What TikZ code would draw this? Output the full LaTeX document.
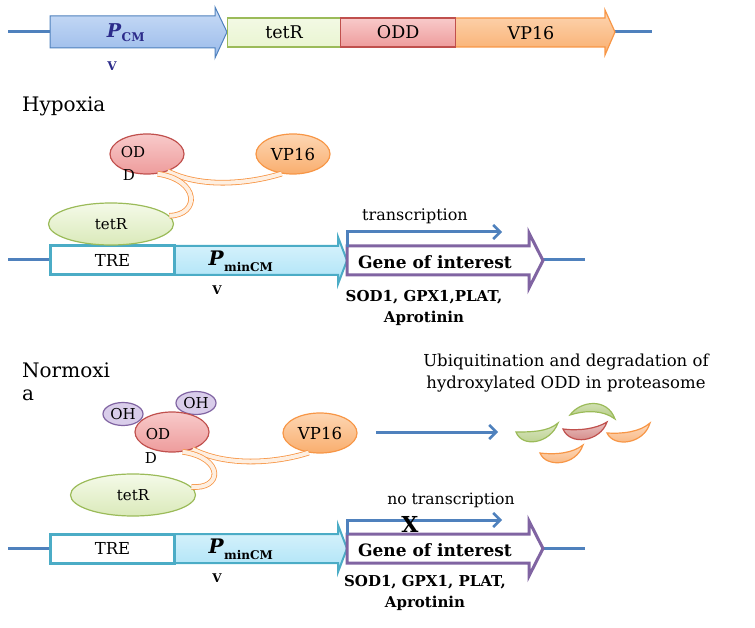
\documentclass[tikz,border=0pt]{standalone}
\usepackage{fontspec}
\setmainfont{DejaVu Serif}
\usetikzlibrary{shapes.geometric,arrows.meta}
\definecolor{dnablue}{HTML}{4F81BD}
\definecolor{pcmA}{HTML}{CADCF6}
\definecolor{pcmB}{HTML}{98BAEA}
\definecolor{tetfill}{HTML}{EAF5D2}
\definecolor{tetline}{HTML}{9BBB59}
\definecolor{oddA}{HTML}{F8CACA}
\definecolor{oddB}{HTML}{EE9C9C}
\definecolor{oddline}{HTML}{C0504D}
\definecolor{vpA}{HTML}{FDD6B3}
\definecolor{vpB}{HTML}{F9AE6E}
\definecolor{vpline}{HTML}{F79646}
\definecolor{ohfill}{HTML}{D9CDEA}
\definecolor{ohline}{HTML}{8064A2}
\definecolor{minA}{HTML}{DDF4FC}
\definecolor{minB}{HTML}{ABE3F7}
\definecolor{minline}{HTML}{4BACC6}
\definecolor{genepurple}{HTML}{8064A2}
\definecolor{pcmtext}{HTML}{2B2B8A}
\tikzset{
  dna/.style={line width=3pt, dnablue},
  pcmbox/.style={draw=dnablue, line width=1pt, top color=pcmA, bottom color=pcmB},
  tetbox/.style={draw=tetline, line width=1.2pt, top color=tetfill!60!white, bottom color=tetfill},
  oddbox/.style={draw=oddline, line width=1.2pt, top color=oddA, bottom color=oddB},
  vpbox/.style={draw=vpline, line width=1.2pt, top color=vpA, bottom color=vpB},
  minbox/.style={draw=minline, line width=2pt, top color=minA, bottom color=minB},
  trebox/.style={draw=minline, line width=3pt, fill=white},
  genebox/.style={draw=genepurple, line width=3pt, fill=white},
  tetell/.style={ellipse, draw=tetline, line width=1.2pt, top color=tetfill!50!white, bottom color=tetfill!80!tetline, minimum width=125pt, minimum height=42pt, inner sep=0pt},
  oddell/.style={ellipse, draw=oddline, line width=1.2pt, top color=oddA, bottom color=oddB, minimum width=74pt, minimum height=40pt, inner sep=0pt},
  vpell/.style={ellipse, draw=vpline, line width=1.2pt, top color=vpA, bottom color=vpB, minimum width=74pt, minimum height=40pt, inner sep=0pt},
  ohell/.style={ellipse, draw=ohline, line width=1.2pt, fill=ohfill, minimum width=40pt, minimum height=23pt, inner sep=0pt},
  link/.style={draw=vpline, line width=0.8pt, double=vpA!40!white, double distance=4pt},
  txt/.style={font=\fontsize{15}{17}\selectfont, inner sep=0pt},
  vptxt/.style={font=\fontsize{16.5}{18}\selectfont, inner sep=0pt},
  toptxt/.style={font=\fontsize{17.5}{19}\selectfont, inner sep=0pt},
  headtxt/.style={font=\fontsize{20}{22}\selectfont, inner sep=0pt, anchor=west},
  genetxt/.style={font=\fontsize{17}{19}\selectfont\bfseries, inner sep=0pt},
  tretxt/.style={font=\fontsize{16.5}{18}\selectfont, inner sep=0pt},
  soddtxt/.style={align=center, font=\fontsize{15}{21}\selectfont\bfseries, inner sep=0pt},
  vtxt/.style={font=\fontsize{12}{12}\selectfont\bfseries, inner sep=0pt},
  tarrow/.style={line width=3pt, dnablue, -{Straight Barb[length=7pt,width=14pt,line width=2.5pt]}},
  crumb/.style={line width=1.2pt, top color=#1!35!white, bottom color=#1!75!white, draw=#1},
}
\begin{document}
\begin{tikzpicture}[x=1pt,y=-1pt]
\useasboundingbox (0,0) rectangle (755,628);
%%%%% top construct
\coordinate (t0) at (8,32);
\coordinate (t1) at (50,32);
\coordinate (t2) at (615,32);
\coordinate (t3) at (652,32);
\draw[dna] (t0) -- (t1);
\draw[dna] (t2) -- (t3);
\draw[pcmbox] (50,16) -- (215,16) -- (215,7) -- (227,32) -- (215,58) -- (215,48) -- (50,48) -- cycle;
\draw[vpbox] (455,18) -- (605,18) -- (605,10) -- (615,32) -- (605,55) -- (605,47) -- (455,47) -- cycle;
\node[tetbox, draw, rectangle, minimum width=113pt, minimum height=29pt, anchor=west, inner sep=0pt] (ttet) at (227,32.5) {};
\node[oddbox, draw, rectangle, minimum width=115pt, minimum height=29pt, anchor=west, inner sep=0pt] (todd) at (340,32.5) {};
\node[toptxt] (tettxt) at (ttet) {tetR};
\node[toptxt] (oddtxt) at (todd) {ODD};
\node[toptxt] (vptxt) at (531,33) {VP16};
\node[txt, text=pcmtext] (pcmtxt) at (126,33) {\textbf{\textit{\fontsize{19}{19}\selectfont P}}\textsubscript{\bfseries\fontsize{12}{12}\selectfont CM}};
\node[vtxt, text=pcmtext] (pcmv) at (112,66) {V};
%%%%% Hypoxia
\node[headtxt] (hyp) at (22,106) {Hypoxia};
\coordinate (h0) at (8,260);
\coordinate (h1) at (49,260);
\coordinate (h2) at (543,260);
\coordinate (h3) at (585,260);
\draw[dna] (h0) -- (h1);
\draw[dna] (h2) -- (h3);
\draw[minbox] (173,246) -- (338,246) -- (338,237) -- (347,260.5) -- (338,284) -- (338,275) -- (173,275) -- cycle;
\node[trebox, rectangle, minimum width=124pt, minimum height=29pt, anchor=west, inner sep=0pt] (htre) at (49,260.5) {};
\node[tretxt] at (htre) {TRE};
\draw[genebox] (347,246) -- (529,246) -- (529,233) -- (543,260.5) -- (529,288) -- (529,275) -- (347,275) -- cycle;
\node[genetxt] (hgene) at (435,262) {Gene of interest};
\node[txt, font=\bfseries] (hpmin) at (241,261) {\textit{\fontsize{20}{20}\selectfont P}\textsubscript{\fontsize{12}{12}\selectfont minCM}};
\node[vtxt] (hpminv) at (217,290) {V};
\coordinate (hs) at (347,247);
\coordinate (hc) at (347,232);
\coordinate (he) at (502,232);
\draw[tarrow] (hs) -- (hc) -- (he);
\node[txt, font=\fontsize{16}{18}\selectfont] (htrans) at (415,216) {transcription};
\node[soddtxt] (hsod) at (424,308) {SOD1, GPX1,PLAT,\\Aprotinin};
% proteins
\node[vpell] (hvp) at (293,154) {};
\node[oddell] (hodd) at (147,154) {};
\node[tetell] (htet) at (111,224) {};
\draw[link] (hodd.-40) .. controls (205,190) and (255,182) .. (hvp.-120);
\draw[link] (hodd.-62) .. controls (200,180) and (200,215) .. (htet.8);
\node[vptxt] at (hvp) {VP16};
\node[txt] at (133,152) {OD};
\node[txt] at (129,175) {D};
\node[txt] at (htet) {tetR};
%%%%% Normoxia
\node[headtxt] (nor1) at (22,370) {Normoxi};
\node[headtxt] (nor2) at (22,395) {a};
\coordinate (n0) at (8,548);
\coordinate (n1) at (49,548);
\coordinate (n2) at (543,548);
\coordinate (n3) at (585,548);
\draw[dna] (n0) -- (n1);
\draw[dna] (n2) -- (n3);
\draw[minbox] (173,534) -- (338,534) -- (338,525) -- (347,548.5) -- (338,572) -- (338,563) -- (173,563) -- cycle;
\node[trebox, rectangle, minimum width=124pt, minimum height=29pt, anchor=west, inner sep=0pt] (ntre) at (49,548.5) {};
\node[tretxt] at (ntre) {TRE};
\draw[genebox] (347,534) -- (529,534) -- (529,521) -- (543,548.5) -- (529,576) -- (529,563) -- (347,563) -- cycle;
\node[genetxt] (ngene) at (435,550) {Gene of interest};
\node[txt, font=\bfseries] (npmin) at (241,549) {\textit{\fontsize{20}{20}\selectfont P}\textsubscript{\fontsize{12}{12}\selectfont minCM}};
\node[vtxt] (npminv) at (217,578) {V};
\coordinate (ns) at (347,535);
\coordinate (nc) at (347,520);
\coordinate (ne) at (502,520);
\draw[tarrow] (ns) -- (nc) -- (ne);
\node[txt, font=\fontsize{15.6}{18}\selectfont] (ntrans) at (451,500) {no transcription};
\node[font=\fontsize{22}{22}\selectfont\bfseries, inner sep=0pt] (nx) at (410,524) {X};
\node[soddtxt] (nsod) at (425,593) {SOD1, GPX1, PLAT,\\Aprotinin};
% proteins
\node[ohell] (noh2) at (196,403) {};
\node[vpell] (nvp) at (320,433) {};
\node[oddell] (nodd) at (172,432) {};
\node[ohell] (noh1) at (123,414) {};
\node[tetell] (ntet) at (133,495) {};
\draw[link] (nodd.-40) .. controls (230,468) and (280,462) .. (nvp.-120);
\draw[link] (nodd.-62) .. controls (225,458) and (222,490) .. (ntet.8);
\node[vptxt] at (nvp) {VP16};
\node[txt] at (158,434) {OD};
\node[txt] at (151,458) {D};
\node[txt] at (ntet) {tetR};
\node[txt] at (noh1) {OH};
\node[txt] at (noh2) {OH};
% degradation
\coordinate (ds) at (376,432);
\coordinate (de) at (498,432);
\draw[tarrow] (ds) -- (de);
\node[align=center, inner sep=0pt, font=\fontsize{16.5}{22}\selectfont] (ubi) at (566,373) {Ubiquitination and degradation of\\hydroxylated ODD in proteasome};
\draw[crumb=tetline] (516,432) .. controls (522,448) and (550,444) .. (558,423) .. controls (548,432) and (530,432) .. cycle;
\draw[crumb=tetline] (570,415) .. controls (580,401) and (607,397) .. (615,419) .. controls (603,410) and (586,410) .. cycle;
\draw[crumb=oddline] (563,429) .. controls (570,446) and (600,442) .. (607,422) .. controls (596,429) and (578,431) .. cycle;
\draw[crumb=vpline] (607,433) .. controls (614,448) and (644,444) .. (650,423) .. controls (640,432) and (622,434) .. cycle;
\draw[crumb=vpline] (540,453) .. controls (546,468) and (576,466) .. (583,445) .. controls (573,453) and (556,455) .. cycle;
\end{tikzpicture}
\end{document}
